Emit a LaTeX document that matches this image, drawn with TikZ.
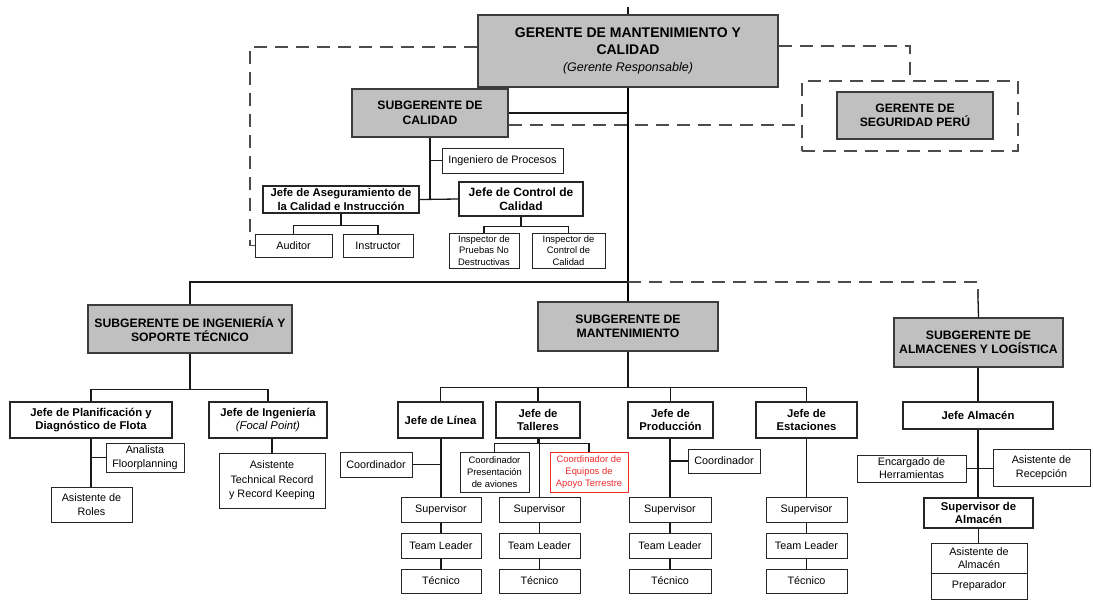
\documentclass[tikz,border=0pt]{standalone}
\usepackage{fontspec}
\setmainfont{Liberation Sans}
\usepackage{xcolor}
\usepackage{tikz}
\definecolor{boxgray}{RGB}{192,192,192}
\definecolor{edgegray}{RGB}{60,60,60}
\definecolor{alertred}{RGB}{238,45,45}
\usetikzlibrary{positioning,calc}

\begin{document}
\begin{tikzpicture}[
    x=1pt, y=-1pt,
    mgr/.style={rectangle, draw=edgegray, fill=boxgray, line width=1.1pt, align=center, inner sep=1pt, font=\fontsize{12.2}{14.5}\selectfont\bfseries},
    jefe/.style={rectangle, draw=black!85, fill=white, line width=1.1pt, align=center, inner sep=1pt, font=\fontsize{11.3}{13.5}\selectfont\bfseries},
    staff/.style={rectangle, draw=black!85, fill=white, line width=1pt, align=center, inner sep=1pt, font=\fontsize{10.8}{13.5}\selectfont},
    tiny/.style={staff, font=\fontsize{9.4}{11.8}\selectfont},
    link/.style={line width=1.3pt, draw=black!90},
    trunk/.style={line width=1.8pt},
    dashline/.style={draw=black!70, line width=1.3pt, dash pattern=on 13pt off 8pt}
]
\useasboundingbox (0,0) rectangle (1093,600);

\coordinate (stub) at (628,7);
\node[mgr, minimum width=300pt, minimum height=72pt, font=\fontsize{14}{17}\selectfont\bfseries] (gmc) at (628,51) {GERENTE DE MANTENIMIENTO Y\\CALIDAD\\{\mdseries\itshape\fontsize{12.5}{17}\selectfont (Gerente Responsable)}};
\node[dashline, minimum width=216pt, minimum height=70pt] (gspzone) at (910,116) {};
\node[mgr, minimum width=156pt, minimum height=47pt] (gsp) at (915,115.5) {GERENTE DE\\SEGURIDAD PERÚ};
\node[mgr, minimum width=156pt, minimum height=48pt] (sgc) at (430,113) {SUBGERENTE DE\\CALIDAD};

\node[staff, minimum width=121pt, minimum height=25pt] (ip) at (502.5,160.5) {Ingeniero de Procesos};
\node[jefe, minimum width=156pt, minimum height=27pt] (jac) at (341,199.5) {Jefe de Aseguramiento de\\la Calidad e Instrucción};
\node[jefe, font=\fontsize{12}{14}\selectfont\bfseries, minimum width=124pt, minimum height=34pt] (jcc) at (521,199) {Jefe de Control de\\Calidad};
\node[staff, minimum width=77pt, minimum height=23pt] (auditor) at (293.5,245.5) {Auditor};
\node[staff, minimum width=70pt, minimum height=23pt] (instructor) at (378,245.5) {Instructor};
\node[tiny, minimum width=70pt, minimum height=35pt] (ipnd) at (484,250.5) {Inspector de\\Pruebas No\\Destructivas};
\node[tiny, minimum width=73pt, minimum height=35pt] (icc) at (568.5,250.5) {Inspector de\\Control de\\Calidad};

\node[mgr, minimum width=204pt, minimum height=48pt] (sgist) at (190,329) {SUBGERENTE DE INGENIERÍA Y\\SOPORTE TÉCNICO};
\node[mgr, minimum width=180pt, minimum height=49pt] (sgm) at (628,326.5) {SUBGERENTE DE\\MANTENIMIENTO};
\node[mgr, minimum width=169pt, minimum height=49pt] (sgal) at (978.5,342.5) {SUBGERENTE DE\\ALMACENES Y LOGÍSTICA};

\node[jefe, minimum width=162pt, minimum height=36pt] (jpdf) at (91,420) {Jefe de Planificación y\\Diagnóstico de Flota};
\node[jefe, minimum width=118pt, minimum height=36pt] (ji) at (268,420) {Jefe de Ingeniería\\{\mdseries\itshape (Focal Point)}};
\node[staff, minimum width=78pt, minimum height=29pt] (af) at (145,457.5) {Analista\\Floorplanning};
\node[staff, minimum width=81pt, minimum height=35pt] (adr) at (91.5,504.5) {Asistente de\\Roles};
\node[staff, minimum width=106pt, minimum height=55pt, font=\fontsize{10.8}{14.5}\selectfont] (atr) at (272,480.5) {Asistente\\Technical Record\\y Record Keeping};

\node[jefe, minimum width=85pt, minimum height=36pt] (jl) at (440.5,420) {Jefe de Línea};
\node[jefe, minimum width=84pt, minimum height=36pt] (jt) at (538,420) {Jefe de\\Talleres};
\node[jefe, minimum width=85pt, minimum height=36pt] (jp) at (670.5,420) {Jefe de\\Producción};
\node[jefe, minimum width=101pt, minimum height=36pt] (je) at (806.5,420) {Jefe de\\Estaciones};
\node[staff, minimum width=72pt, minimum height=25pt] (coordl) at (376,464.5) {Coordinador};
\node[tiny, minimum width=69pt, minimum height=40pt] (cpa) at (494.5,472) {Coordinador\\Presentación\\de aviones};
\node[tiny, draw=alertred, text=alertred, minimum width=78pt, minimum height=40pt] (ceat) at (589,472) {Coordinador de\\Equipos de\\Apoyo Terrestre};
\node[staff, minimum width=72pt, minimum height=24pt] (coordp) at (724,461) {Coordinador};

\foreach \col/\cx/\w in {l/441/80, t/539.5/81, p/670/82, e/806.5/81} {
    \node[staff, minimum width=\w pt, minimum height=25pt] (sup\col) at (\cx,509.5) {Supervisor};
    \node[staff, minimum width=\w pt, minimum height=25pt] (tl\col) at (\cx,545.5) {Team Leader};
    \node[staff, minimum width=\w pt, minimum height=24pt] (tec\col) at (\cx,581) {Técnico};
    \draw[link] (j\col.south -| sup\col.north) -- (sup\col.north);
    \draw[link] (sup\col) -- (tl\col) -- (tec\col);
}

\node[jefe, minimum width=150pt, minimum height=27pt] (ja) at (978,415.5) {Jefe Almacén};
\node[staff, font=\fontsize{10.8}{13}\selectfont, minimum width=109pt, minimum height=27pt] (eh) at (911.5,468.5) {Encargado de\\Herramientas};
\node[staff, minimum width=97pt, minimum height=37pt] (ar) at (1041.5,467.5) {Asistente de\\Recepción};
\node[jefe, minimum width=109pt, minimum height=30pt] (sa) at (978.5,513) {Supervisor de\\Almacén};
\node[staff, font=\fontsize{10.8}{12.8}\selectfont, minimum width=96pt, minimum height=30pt] (ada) at (979,558) {Asistente de\\Almacén};
\node[staff, minimum width=96pt, minimum height=26pt] (prep) at (979,586) {Preparador};

\draw[link] (stub) -- (gmc.north);
\draw[trunk] (gmc.south) -- (sgm.north);
\draw[link] (sgc.east) -- (sgc.east -| gmc.south);
\draw[link] (sgc.south) -- (sgc.south |- jac.east);
\draw[link] (jac.east) -- (jcc.west);
\draw[link] (sgc.south |- ip.west) -- (ip.west);
\draw[link] (jac.south) -- ++(0,12) coordinate (jacbar) -| (auditor.north) (jacbar) -| (instructor.north);
\draw[link] (jcc.south) -- ++(0,10) coordinate (jccbar) -| (ipnd.north) (jccbar) -| (icc.north);

\draw[dashline] (gmc.west |- 0,47) -- (250,47) |- (auditor.west);
\draw[dashline] (gmc.east |- 0,46) -| (gspzone.north);
\draw[dashline] (sgc.east |- 0,125) -- (gspzone.west |- 0,125);

\coordinate (hub) at (628,282);
\coordinate (sgaltop) at (978,298);
\draw[link] (sgist.north) |- (hub);
\draw[dashline] (hub) -| (sgaltop);
\draw[link] (sgaltop) -- (sgal.north);

\draw[link] (sgist.south) -- ++(0,36) coordinate (sgistbar) -| (jpdf.north) (sgistbar) -| (ji.north);
\draw[link] (jpdf.south) -- (jpdf.south |- adr.north);
\draw[link] (jpdf.south |- af.west) -- (af.west);
\draw[link] (atr.north |- ji.south) -- (atr.north);

\draw[link] (sgm.south) -- ++(0,36) coordinate (sgmbar);
\draw[link] (jl.north) |- (sgmbar) -| (je.north);
\draw[link] (jt.north) -- (jt.north |- sgmbar);
\draw[link] (jp.north) -- (jp.north |- sgmbar);
\draw[link] (jt.south) -- ++(0,5) coordinate (jtbar) -| (cpa.north) (jtbar) -| (ceat.north);
\draw[link] (coordl.east) -- (coordl.east -| supl.north);
\draw[link] (coordp.west) -- (coordp.west -| supp.north);

\draw[link] (ja.north |- sgal.south) -- (ja.north);
\draw[link] (ja.south) -- (ja.south |- sa.north);
\draw[link] (eh.east) -- (eh.east -| ar.west);
\draw[link] (sa.south) -- (sa.south |- ada.north);

\end{tikzpicture}
\end{document}
